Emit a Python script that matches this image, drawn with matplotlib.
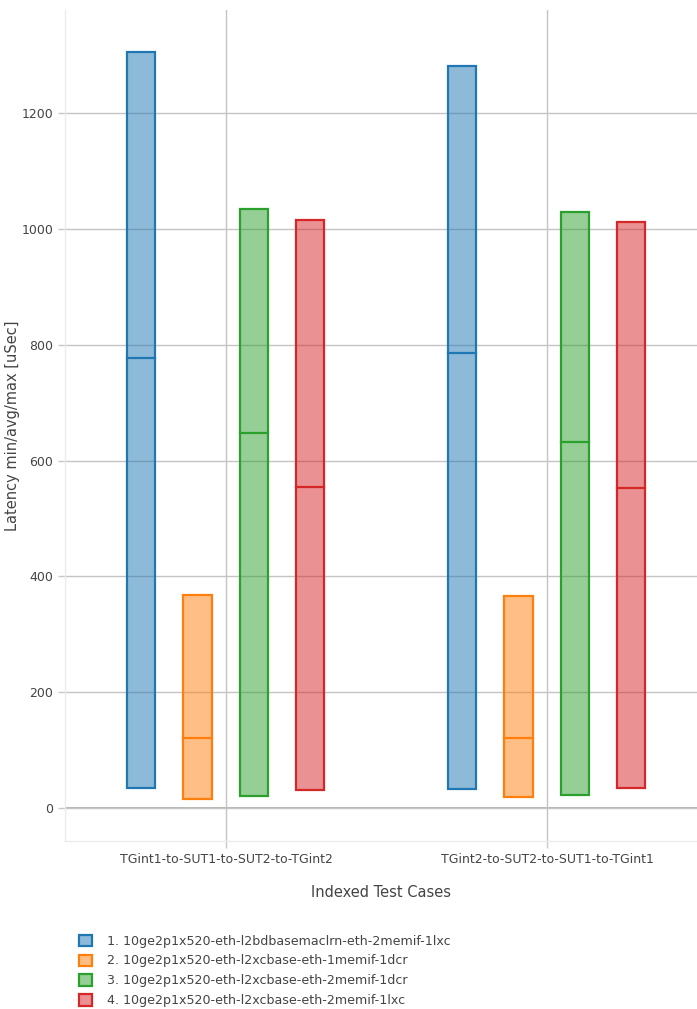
import matplotlib
matplotlib.use("Agg")
import matplotlib.pyplot as plt
from matplotlib.patches import Patch, Rectangle

#----------------------------------------------------------------------------

categories = ["TGint1-to-SUT1-to-SUT2-to-TGint2", "TGint2-to-SUT2-to-SUT1-to-TGint1"]
series = ["1. 10ge2p1x520-eth-l2bdbasemaclrn-eth-2memif-1lxc",
          "2. 10ge2p1x520-eth-l2xcbase-eth-1memif-1dcr",
          "3. 10ge2p1x520-eth-l2xcbase-eth-2memif-1dcr",
          "4. 10ge2p1x520-eth-l2xcbase-eth-2memif-1lxc"]
colors = ["#1f77b4", "#ff7f0e", "#2ca02c", "#d62728"]

# latency per series, one value per category
lat_min = [[35, 33], [15, 19], [21, 22], [31, 34]]
lat_avg = [[778, 786], [121, 121], [648, 632], [554, 553]]
lat_max = [[1305, 1281], [368, 366], [1034, 1029], [1015, 1012]]

#----------------------------------------------------------------------------

fig = plt.figure(figsize=(6.97, 10.09), dpi=100)
ax = fig.add_axes([0.0933, 0.1665, 0.9067, 0.8235])

offsets = [-0.264, -0.089, 0.087, 0.262]
width = 0.088

for i in range(len(series)):
    for j in range(len(categories)):
        x = j + offsets[i]
        lo, mid, hi = lat_min[i][j], lat_avg[i][j], lat_max[i][j]
        ax.add_patch(Rectangle((x - width / 2, lo), width, hi - lo,
                               facecolor=colors[i], alpha=0.5, edgecolor="none", zorder=3))
        ax.add_patch(Rectangle((x - width / 2, lo), width, hi - lo,
                               facecolor="none", edgecolor=colors[i], lw=1.6, zorder=4))
        ax.plot([x - width / 2, x + width / 2], [mid, mid], color=colors[i], lw=1.6, zorder=4)

ax.set_xlim(-0.5016, 1.467)
ax.set_ylim(-57, 1378)
ax.set_xticks(range(len(categories)))
ax.set_xticklabels(categories)
ax.set_yticks([0, 200, 400, 600, 800, 1000, 1200])

ax.grid(True, color="#c4c4c4", lw=1.0, zorder=0)
ax.axhline(0, color="#b0b0b0", lw=1.3, zorder=1)
for s in ["top", "right"]:
    ax.spines[s].set_visible(False)
for s in ["left", "bottom"]:
    ax.spines[s].set_color("#ebebeb")
    ax.spines[s].set_linewidth(1.0)
ax.tick_params(axis="both", colors="#c8c8c8", labelcolor="#444444", labelsize=9,
               length=5, width=1.0)

ax.set_xlabel("Indexed Test Cases", fontsize=10.5, color="#444444", labelpad=14)
ax.set_ylabel("Latency min/avg/max [uSec]", fontsize=10.5, color="#444444")
ax.yaxis.set_label_coords(-0.0712, 0.5)

handles = [Patch(facecolor=matplotlib.colors.to_rgba(c, 0.5), edgecolor=c, lw=1.6) for c in colors]
fig.legend(handles, series, loc="upper left", bbox_to_anchor=(0.114, 0.0738),
           frameon=False, fontsize=9.1, labelcolor="#444444",
           handlelength=1.0, handleheight=1.0, handletextpad=1.2, labelspacing=0.55,
           borderaxespad=0, borderpad=0)

fig.savefig("out.png", dpi=100)
